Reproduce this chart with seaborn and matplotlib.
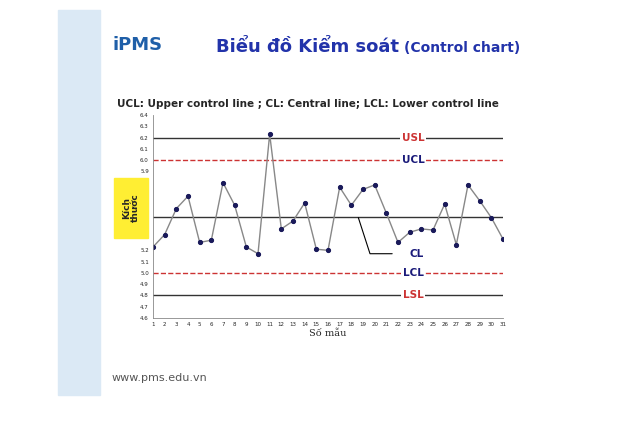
import matplotlib
matplotlib.use("Agg")
import matplotlib.pyplot as plt
import seaborn as sns
import pandas as pd
from matplotlib.patches import Rectangle

samples = list(range(1, 32))
values = [5.23, 5.34, 5.57, 5.68, 5.27, 5.29, 5.80, 5.60, 5.23, 5.17, 6.23, 5.39, 5.46, 5.62,
          5.21, 5.20, 5.76, 5.60, 5.74, 5.78, 5.53, 5.27, 5.36, 5.39, 5.38, 5.61, 5.25, 5.78,
          5.64, 5.49, 5.30]
limit_names = ["USL", "UCL", "CL", "LCL", "LSL"]
limit_values = [6.2, 6.0, 5.5, 5.0, 4.8]
yticks = [4.6, 4.7, 4.8, 4.9, 5.0, 5.1, 5.2, 5.3, 5.4, 5.5, 5.6, 5.7, 5.8, 5.9, 6.0, 6.1, 6.2, 6.3, 6.4]
hidden_ticks = [5.3, 5.4, 5.5, 5.6, 5.7, 5.8]

sns.set_style("white")
plt.rcParams['font.family'] = ['DejaVu Sans']
fig = plt.figure(figsize=(6.4, 4.28), dpi=100)
fig.patches.append(Rectangle((58/640, 1-395/428), 42/640, 385/428, transform=fig.transFigure,
                             color="#dbe9f5", zorder=0))
fig.text(112/640, 1-45/428, "iPMS", color="#1f5fa8", fontsize=13, fontweight="bold", va="center")
fig.text(216/640, 1-47/428, "Biểu đồ Kiểm soát", color="#2233aa", fontsize=13, fontweight="bold", va="center")
fig.text(404/640, 1-48/428, "(Control chart)", color="#2233aa", fontsize=10, fontweight="bold", va="center")
fig.text(112/640, 1-378/428, "www.pms.edu.vn", color="#555555", fontsize=8, va="center")
fig.text(117/640, 1-104/428, "UCL: Upper control line ; CL: Central line; LCL: Lower control line",
         fontsize=7.5, fontweight="bold", va="center")

ax = fig.add_axes([153/640, 1-318/428, 350/640, 203/428])
df = pd.DataFrame({"sample": samples, "value": values})
sns.lineplot(data=df, x="sample", y="value", ax=ax, color="#888888", lw=1,
             marker="o", markersize=3, markerfacecolor="#1a1a5a", markeredgecolor="#1a1a5a")
for name, v in zip(limit_names, limit_values):
    dashed = name in ("UCL", "LCL")
    ax.axhline(v, color="#cc3333" if dashed else "#333333", lw=1, ls="--" if dashed else "-", zorder=1)
    if name != "CL":
        ax.text(23.3, v, name, color="#cc3333" if name in ("USL", "LSL") else "#1a1a7a",
                fontsize=7.5, fontweight="bold", va="center", ha="center",
                bbox=dict(facecolor="white", edgecolor="none", pad=1))
ax.plot([18.6, 19.6, 21.5], [5.49, 5.17, 5.17], color="black", lw=0.8)
ax.text(23.0, 5.17, "CL", color="#1a1a7a", fontsize=7.5, fontweight="bold", va="center")
ax.set_xlim(1, 31)
ax.set_ylim(4.6, 6.4)
ax.set_xticks(samples)
ax.set_yticks(yticks)
ax.set_yticklabels(["" if t in hidden_ticks else f"{t:.1f}" for t in yticks])
ax.tick_params(labelsize=4, length=2, pad=1)
ax.set_xlabel("Số mẫu", fontsize=7, fontfamily="DejaVu Serif", labelpad=1)
ax.set_ylabel("")
for s in ax.spines.values():
    s.set_color("#888888"); s.set_linewidth(0.6)
ax.spines["top"].set_visible(False); ax.spines["right"].set_visible(False)
fig.patches.append(Rectangle((114/640, 1-238/428), 34/640, 60/428, transform=fig.transFigure,
                             color="#ffee33", zorder=0))
fig.text(131/640, 1-208/428, "Kích\nthước", rotation=90, fontsize=6.5, fontweight="bold",
         ha="center", va="center", linespacing=1.0)
fig.savefig("out.png", dpi=100)
